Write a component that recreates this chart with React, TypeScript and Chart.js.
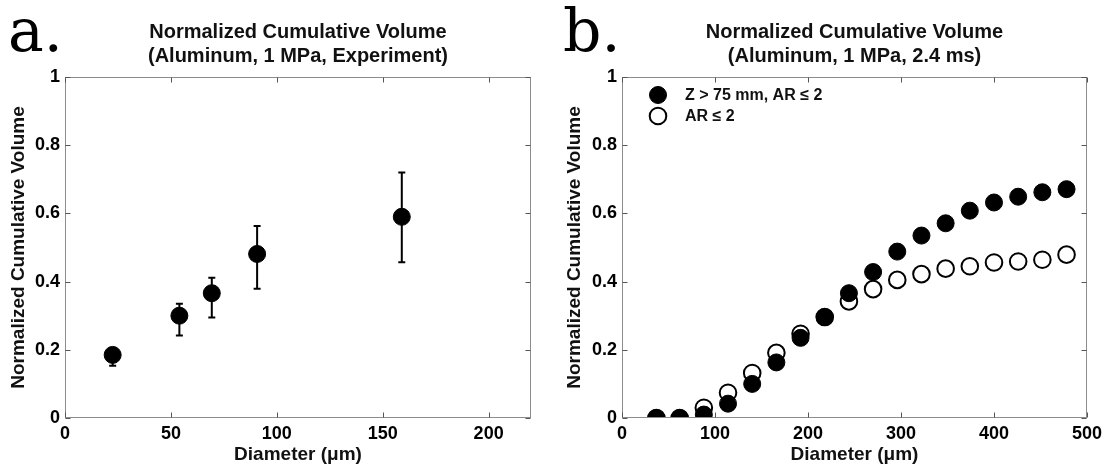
import React, { useEffect, useRef } from 'react';
import { Chart, registerables } from 'chart.js';

Chart.register(...registerables);

const FONT = "'Liberation Sans', Arial, Helvetica, sans-serif";
const SERIF = "'DejaVu Serif', 'Liberation Serif', serif";

// ---- tick labels ----
const yTicks = [0, 0.2, 0.4, 0.6, 0.8, 1];
const xTicksA = [0, 50, 100, 150, 200];
const xTicksB = [0, 100, 200, 300, 400, 500];

// ---- panel a: experiment ----
const expDiameter = [22.5, 54, 69.3, 90.7, 159];
const expVolume = [0.185, 0.3, 0.366, 0.481, 0.59];
const expErrLow = [0.153, 0.242, 0.295, 0.379, 0.457];
const expErrHigh = [0.205, 0.335, 0.411, 0.563, 0.72];

// ---- panel b: simulation ----
const simDiameter = [37, 62, 88, 114, 140, 166, 192, 218, 244, 270, 296, 322, 348, 374, 400, 426, 452, 478];
const simFilled = [0, 0, 0.01, 0.042, 0.1, 0.163, 0.235, 0.296, 0.366, 0.428, 0.488, 0.535, 0.571, 0.608, 0.632, 0.649, 0.662, 0.671];
const simOpen = [0, 0, 0.03, 0.074, 0.132, 0.191, 0.247, 0.296, 0.342, 0.378, 0.405, 0.422, 0.438, 0.445, 0.456, 0.459, 0.464, 0.479];

// ---- texts ----
const titleA = ['Normalized Cumulative Volume', '(Aluminum, 1 MPa, Experiment)'];
const titleB = ['Normalized Cumulative Volume', '(Aluminum, 1 MPa, 2.4 ms)'];
const xAxisTitle = 'Diameter (\u03bcm)';
const yAxisTitle = 'Normalized Cumulative Volume';
const legendLabels = ['Z > 75 mm, AR \u2264 2', 'AR \u2264 2'];

const matlabPlugin = {
  id: 'matlab',
  beforeDatasetsDraw(chart: any, _args: any, opts: any) {
    if (!opts || !opts.errors) return;
    const { ctx } = chart;
    const xs = chart.scales.x;
    const ys = chart.scales.y;
    ctx.save();
    ctx.strokeStyle = '#000';
    ctx.lineWidth = 2;
    opts.errors.x.forEach((xv: number, i: number) => {
      const px = xs.getPixelForValue(xv);
      const lo = ys.getPixelForValue(opts.errors.low[i]);
      const hi = ys.getPixelForValue(opts.errors.high[i]);
      ctx.beginPath();
      ctx.moveTo(px, lo);
      ctx.lineTo(px, hi);
      ctx.moveTo(px - 3.5, lo);
      ctx.lineTo(px + 3.5, lo);
      ctx.moveTo(px - 3.5, hi);
      ctx.lineTo(px + 3.5, hi);
      ctx.stroke();
    });
    ctx.restore();
  },
  afterDraw(chart: any, _args: any, opts: any) {
    const { ctx, chartArea: a } = chart;
    const xs = chart.scales.x;
    const ys = chart.scales.y;
    ctx.save();
    // box
    ctx.strokeStyle = '#8c8c8c';
    ctx.lineWidth = 1;
    const L = Math.round(a.left) + 0.5;
    const R = Math.round(a.right) - 0.5;
    const T = Math.round(a.top) + 0.5;
    const B = Math.round(a.bottom) - 0.5;
    ctx.strokeRect(L, T, R - L, B - T);
    // inward ticks on all sides
    ctx.strokeStyle = '#555';
    ctx.beginPath();
    (opts.xTicks || []).forEach((v: number) => {
      const px = Math.round(xs.getPixelForValue(v)) + 0.5;
      ctx.moveTo(px, B);
      ctx.lineTo(px, B - 5);
      ctx.moveTo(px, T);
      ctx.lineTo(px, T + 5);
    });
    (opts.yTicks || []).forEach((v: number) => {
      const py = Math.round(ys.getPixelForValue(v)) + 0.5;
      ctx.moveTo(L, py);
      ctx.lineTo(L + 5, py);
      ctx.moveTo(R, py);
      ctx.lineTo(R - 5, py);
    });
    ctx.stroke();
    // title
    ctx.fillStyle = '#111';
    ctx.font = `bold 20px ${FONT}`;
    ctx.textAlign = 'center';
    ctx.textBaseline = 'middle';
    const cx = (a.left + a.right) / 2;
    (opts.title || []).forEach((line: string, i: number) => {
      ctx.fillText(line, cx, 32 + i * 24);
    });
    // panel letter
    ctx.font = `60px ${SERIF}`;
    ctx.textAlign = 'left';
    ctx.textBaseline = 'alphabetic';
    ctx.fillStyle = '#000';
    if (opts.letter) ctx.fillText(opts.letter, 8, 51);
    // legend
    if (opts.legend) {
      chart.data.datasets.forEach((ds: any, i: number) => {
        const y = a.top + 18 + i * 21;
        const x = a.left + 36;
        ctx.beginPath();
        ctx.arc(x, y, ds.pointRadius, 0, Math.PI * 2);
        ctx.fillStyle = ds.pointBackgroundColor;
        ctx.fill();
        ctx.lineWidth = ds.pointBorderWidth;
        ctx.strokeStyle = ds.pointBorderColor;
        ctx.stroke();
        ctx.fillStyle = '#111';
        ctx.font = `bold 16px ${FONT}`;
        ctx.textAlign = 'left';
        ctx.textBaseline = 'middle';
        ctx.fillText(ds.label, a.left + 63, y + 1);
      });
    }
    ctx.restore();
  },
};

function makeScales(xMax: number, xTicks: number[], yWidth: number, yTitlePad: number) {
  return {
    x: {
      type: 'linear',
      min: 0,
      max: xMax,
      afterBuildTicks: (s: any) => {
        s.ticks = xTicks.map((v) => ({ value: v }));
      },
      afterFit: (s: any) => {
        s.height = 51;
      },
      grid: { display: false, drawTicks: false },
      border: { display: false },
      ticks: {
        padding: 5,
        color: '#000',
        autoSkip: false,
        maxRotation: 0,
        font: { family: FONT, size: 18, weight: 'bold' },
        callback: (v: any) => String(v),
      },
      title: {
        display: true,
        text: xAxisTitle,
        color: '#111',
        font: { family: FONT, size: 19, weight: 'bold' },
        padding: { top: 0, bottom: 3 },
      },
    },
    y: {
      type: 'linear',
      min: 0,
      max: 1,
      afterBuildTicks: (s: any) => {
        s.ticks = yTicks.map((v) => ({ value: v }));
      },
      afterFit: (s: any) => {
        s.width = yWidth;
      },
      grid: { display: false, drawTicks: false },
      border: { display: false },
      ticks: {
        padding: 5,
        color: '#000',
        autoSkip: false,
        font: { family: FONT, size: 18, weight: 'bold' },
        callback: (v: any) => String(v),
      },
      title: {
        display: true,
        text: yAxisTitle,
        color: '#111',
        font: { family: FONT, size: 19, weight: 'bold' },
        padding: { top: yTitlePad, bottom: 0 },
      },
    },
  };
}

function configA(): any {
  return {
    type: 'scatter',
    data: {
      datasets: [
        {
          label: 'Experiment',
          data: expDiameter.map((x, i) => ({ x, y: expVolume[i] })),
          pointRadius: 8.5,
          pointBackgroundColor: '#000',
          pointBorderColor: '#000',
          pointBorderWidth: 1,
          showLine: false,
        },
      ],
    },
    options: {
      responsive: false,
      animation: false,
      events: [],
      devicePixelRatio: 1,
      layout: { padding: { left: 0, right: 24, top: 77, bottom: 0 } },
      scales: makeScales(220, xTicksA, 65, 7),
      plugins: {
        legend: { display: false },
        title: { display: false },
        tooltip: { enabled: false },
        matlab: {
          title: titleA,
          letter: 'a.',
          xTicks: xTicksA,
          yTicks,
          errors: { x: expDiameter, low: expErrLow, high: expErrHigh },
        },
      },
    },
    plugins: [matlabPlugin],
  };
}

function configB(): any {
  return {
    type: 'scatter',
    data: {
      datasets: [
        {
          label: legendLabels[0],
          data: simDiameter.map((x, i) => ({ x, y: simFilled[i] })),
          pointRadius: 8.5,
          pointBackgroundColor: '#000',
          pointBorderColor: '#000',
          pointBorderWidth: 1,
          showLine: false,
        },
        {
          label: legendLabels[1],
          data: simDiameter.map((x, i) => ({ x, y: simOpen[i] })),
          pointRadius: 8.3,
          pointBackgroundColor: '#fff',
          pointBorderColor: '#000',
          pointBorderWidth: 2,
          showLine: false,
        },
      ],
    },
    options: {
      responsive: false,
      animation: false,
      events: [],
      devicePixelRatio: 1,
      layout: { padding: { left: 0, right: 23, top: 77, bottom: 0 } },
      scales: makeScales(500, xTicksB, 67, 8),
      plugins: {
        legend: { display: false },
        title: { display: false },
        tooltip: { enabled: false },
        matlab: {
          title: titleB,
          letter: 'b.',
          xTicks: xTicksB,
          yTicks,
          legend: true,
        },
      },
    },
    plugins: [matlabPlugin],
  };
}

function Panel({ make }: { make: () => any }) {
  const ref = useRef<HTMLCanvasElement | null>(null);
  useEffect(() => {
    if (!ref.current) return;
    const c = new Chart(ref.current, make());
    return () => c.destroy();
  }, [make]);
  return <canvas ref={ref} width={555} height={469} style={{ display: 'block', width: 555, height: 469 }} />;
}

export default function App() {
  return (
    <div
      style={{
        position: 'fixed',
        left: 0,
        top: 0,
        width: 1110,
        height: 469,
        background: '#fff',
        display: 'flex',
        flexDirection: 'row',
      }}
    >
      <Panel make={configA} />
      <Panel make={configB} />
    </div>
  );
}
